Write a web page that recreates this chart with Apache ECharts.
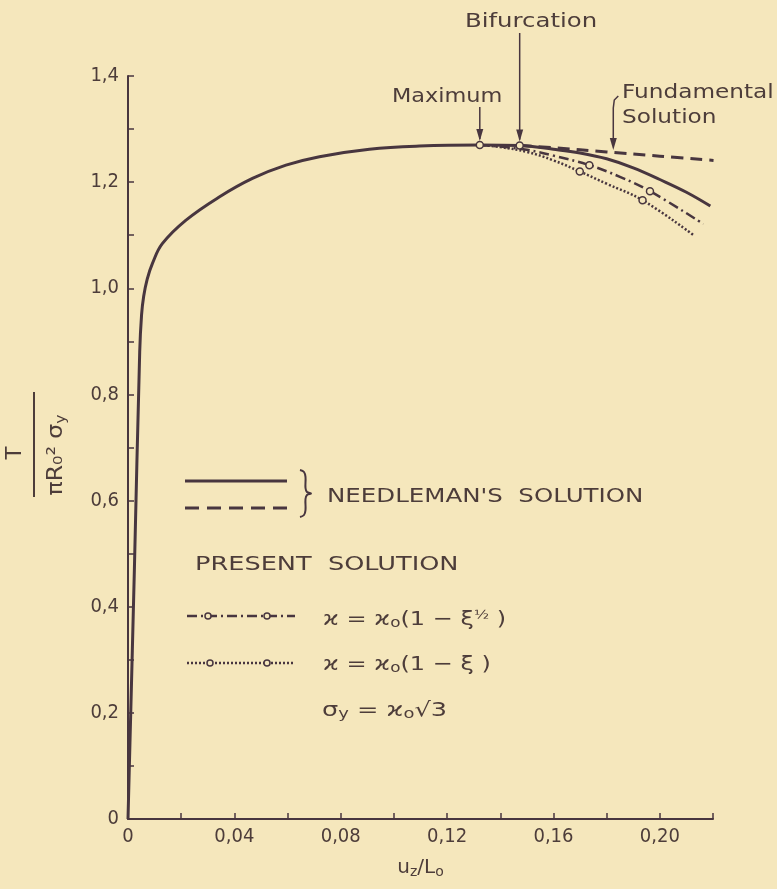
<!DOCTYPE html>
<html><head><meta charset="utf-8">
<script src="https://cdn.jsdelivr.net/npm/echarts@6/dist/echarts.min.js"></script>
<style>html,body{margin:0;padding:0;background:#f5e7bc}#c{width:777px;height:889px}</style>
</head><body><div id="c"></div>
<script>
// ---- data (u_z/L_o , T/(pi R0^2 sigma_y)) ----
const needlemanU = [0, 0.0024, 0.0044, 0.0051, 0.0059, 0.0072, 0.0092, 0.0129, 0.0217, 0.0343, 0.0468, 0.0594, 0.072, 0.0908, 0.1096, 0.1323, 0.1473, 0.16, 0.17, 0.18, 0.19, 0.20, 0.21, 0.219];
const needlemanT = [0, 0.47, 0.88, 0.95, 0.985, 1.017, 1.047, 1.084, 1.128, 1.172, 1.207, 1.232, 1.248, 1.262, 1.268, 1.27, 1.269, 1.262, 1.255, 1.244, 1.227, 1.205, 1.181, 1.155];
const needlemanMarks = [15, 16]; // maximum, bifurcation
const fundamentalU = [0.1473, 0.16, 0.18, 0.20, 0.2202];
const fundamentalT = [1.269, 1.265, 1.257, 1.249, 1.241];
const sqrtLawU = [0.1323, 0.14, 0.15, 0.16, 0.1735, 0.185, 0.1963, 0.2164];
const sqrtLawT = [1.27, 1.267, 1.261, 1.25, 1.232, 1.21, 1.183, 1.121];
const sqrtLawMarks = [4, 6];
const linLawU = [0.1323, 0.14, 0.15, 0.16, 0.1699, 0.18, 0.1935, 0.2127];
const linLawT = [1.27, 1.266, 1.257, 1.241, 1.22, 1.197, 1.166, 1.10];
const linLawMarks = [4, 6];
const xLabelValues = [0, 0.04, 0.08, 0.12, 0.16, 0.20];
const yLabelValues = [0, 0.2, 0.4, 0.6, 0.8, 1.0, 1.2, 1.4];
const maximumU = 0.1323, bifurcationU = 0.1473;

const BG = '#f5e7bc', INK = '#48363f', TXT = '#4d3d3a';
const TICKFONT = "'DejaVu Sans Condensed','DejaVu Sans',sans-serif";
const FONT = "'DejaVu Sans',sans-serif";

function build(us, ts, marks) {
  return us.map((u, i) => {
    const item = { value: [u, ts[i]] };
    if (marks && marks.indexOf(i) >= 0) {
      item.symbol = 'circle'; item.symbolSize = 7;
      item.itemStyle = { color: BG, borderColor: INK, borderWidth: 1.5 };
    }
    return item;
  });
}
function near(v, arr) { return arr.some(a => Math.abs(a - v) < 1e-6); }

const chart = echarts.init(document.getElementById('c'), null, { renderer: 'canvas' });
chart.setOption({
  animation: false,
  backgroundColor: BG,
  grid: { left: 128, right: 64, top: 76, bottom: 70 },
  xAxis: {
    type: 'value', min: 0, max: 0.22, interval: 0.02,
    axisLine: { lineStyle: { color: INK, width: 2 } },
    axisTick: { inside: true, length: 6, lineStyle: { color: INK, width: 1.5 } },
    splitLine: { show: false },
    axisLabel: {
      color: TXT, fontFamily: TICKFONT, fontSize: 20, margin: 8,
      formatter: v => near(v, xLabelValues) ? (v === 0 ? '0' : v.toFixed(2).replace('.', ',')) : ''
    },
    name: '{m|u}{s|z}{m|/L}{s|o}', nameLocation: 'middle', nameGap: 38,
    nameTextStyle: { rich: {
      m: { fontFamily: FONT, fontSize: 20, color: TXT },
      s: { fontFamily: FONT, fontSize: 14, color: TXT, padding: [8, 0, 0, 0] } } }
  },
  yAxis: {
    type: 'value', min: 0, max: 1.4, interval: 0.1,
    axisLine: { lineStyle: { color: INK, width: 2 } },
    axisTick: { inside: true, length: 6, lineStyle: { color: INK, width: 1.5 } },
    splitLine: { show: false },
    axisLabel: {
      color: TXT, fontFamily: TICKFONT, fontSize: 20, margin: 9,
      formatter: v => near(v, yLabelValues) ? (v === 0 ? '0' : v.toFixed(1).replace('.', ',')) : ''
    }
  },
  series: [
    { type: 'line', name: 'Needleman', data: build(needlemanU, needlemanT, needlemanMarks),
      symbol: 'none', smooth: 0.4, clip: false,
      lineStyle: { color: INK, width: 3 }, z: 5 },
    { type: 'line', name: 'Fundamental', data: build(fundamentalU, fundamentalT),
      symbol: 'none', smooth: 0.4, lineStyle: { color: INK, width: 3, type: [12, 7] } },
    { type: 'line', name: 'sqrt', data: build(sqrtLawU, sqrtLawT, sqrtLawMarks),
      symbol: 'none', smooth: 0.4,
      lineStyle: { color: INK, width: 2.5, type: [10, 4, 2, 4] } },
    { type: 'line', name: 'linear', data: build(linLawU, linLawT, linLawMarks),
      symbol: 'none', smooth: 0.4,
      lineStyle: { color: INK, width: 2.5, type: [2, 2] } }
  ]
});

// ---- annotations & legend (graphic) ----
const P = (u, t) => chart.convertToPixel({ gridIndex: 0 }, [u, t]);
function arrow(x, y1, y2) {
  return [
    { type: 'line', shape: { x1: x, y1: y1, x2: x, y2: y2 - 2 }, style: { stroke: INK, lineWidth: 1.5 } },
    { type: 'polygon', shape: { points: [[x - 3.5, y2 - 12], [x + 3.5, y2 - 12], [x, y2]] }, style: { fill: INK } }
  ];
}
function txt(text, x, y, size, sx, extra) {
  return { type: 'text', x: x, y: y, scaleX: sx || 1,
    style: Object.assign({ text: text, fill: TXT, fontFamily: FONT, fontSize: size, align: 'left', verticalAlign: 'middle' }, extra || {}) };
}
const g = [];
const pMax = P(maximumU, 1.27), pBif = P(bifurcationU, 1.269);
g.push(...arrow(pMax[0], 107, pMax[1] - 4));
g.push(...arrow(pBif[0], 33, pBif[1] - 4));
const pF = P(0.1825, 1.257);
g.push({ type: 'polyline', shape: { points: [[pF[0] + 5, 96], [pF[0] + 1, 100], [pF[0], 108], [pF[0], pF[1] - 12]] }, style: { stroke: INK, lineWidth: 1.5, fill: null } });
g.push({ type: 'polygon', shape: { points: [[pF[0] - 3.5, pF[1] - 14], [pF[0] + 3.5, pF[1] - 14], [pF[0], pF[1] - 2]] }, style: { fill: INK } });
g.push(txt('Bifurcation', 465, 22, 20, 1.22));
g.push(txt('Maximum', 392, 97, 20, 1.12));
g.push(txt('Fundamental', 622, 93, 20, 1.16));
g.push(txt('Solution', 622, 118, 20, 1.16));

// y-axis title (rotated fraction)
g.push({ type: 'text', x: 16, y: 453, rotation: Math.PI / 2,
  style: { text: 'T', fill: TXT, fontFamily: FONT, fontSize: 21, align: 'center', verticalAlign: 'middle' } });
g.push({ type: 'line', shape: { x1: 34, y1: 392, x2: 34, y2: 497 }, style: { stroke: TXT, lineWidth: 2 } });
g.push({ type: 'text', x: 57, y: 455, rotation: Math.PI / 2, scaleX: 1.12,
  style: { text: '{m|πR}{s|₀²}{m| σ}{y|y}', fill: TXT, align: 'center', verticalAlign: 'middle',
    rich: { m: { fontFamily: FONT, fontSize: 21, fill: TXT },
            s: { fontFamily: FONT, fontSize: 21, fill: TXT },
            y: { fontFamily: FONT, fontSize: 14, fill: TXT, padding: [8, 0, 0, 0] } } } });

// legend
g.push({ type: 'line', shape: { x1: 185, y1: 481, x2: 287, y2: 481 }, style: { stroke: INK, lineWidth: 3 } });
g.push({ type: 'line', shape: { x1: 185, y1: 508, x2: 290, y2: 508 }, style: { stroke: INK, lineWidth: 3, lineDash: [14, 8] } });
g.push({ type: 'polyline', shape: { smooth: 0.4, points: [[300, 470], [304, 472], [305.5, 477], [305.5, 488], [307, 492], [311, 493.5], [307, 495], [305.5, 499], [305.5, 510], [304, 515], [300, 517]] },
  style: { stroke: INK, lineWidth: 2, fill: null } });
g.push(txt("NEEDLEMAN'S  SOLUTION", 327, 497, 20, 1.225));
g.push(txt('PRESENT  SOLUTION', 195, 565, 20, 1.28));
g.push({ type: 'line', shape: { x1: 187, y1: 616, x2: 295, y2: 616 }, style: { stroke: INK, lineWidth: 2.5, lineDash: [10, 4, 2, 4] } });
g.push({ type: 'line', shape: { x1: 187, y1: 663, x2: 295, y2: 663 }, style: { stroke: INK, lineWidth: 2.5, lineDash: [2, 2] } });
[[208, 616], [267, 616], [210, 663], [267, 663]].forEach(c => g.push({ type: 'circle', shape: { cx: c[0], cy: c[1], r: 3 }, style: { fill: BG, stroke: INK, lineWidth: 1.5 } }));
const formRich = { m: { fontFamily: FONT, fontSize: 20, fill: TXT }, s: { fontFamily: FONT, fontSize: 14, fill: TXT, padding: [7, 0, 0, 0] },
  u: { fontFamily: FONT, fontSize: 13, fill: TXT, padding: [0, 0, 9, 0] } };
g.push(txt('{m|ϰ = ϰ}{s|o}{m|(1 − ξ}{u|½}{m| )}', 323, 620, 20, 1.2, { rich: formRich }));
g.push(txt('{m|ϰ = ϰ}{s|o}{m|(1 − ξ )}', 323, 665, 20, 1.2, { rich: formRich }));
g.push(txt('{m|σ}{s|y}{m| = ϰ}{s|o}{m|√3}', 322, 711, 20, 1.28, { rich: formRich }));

chart.setOption({ graphic: g });
</script></body></html>
